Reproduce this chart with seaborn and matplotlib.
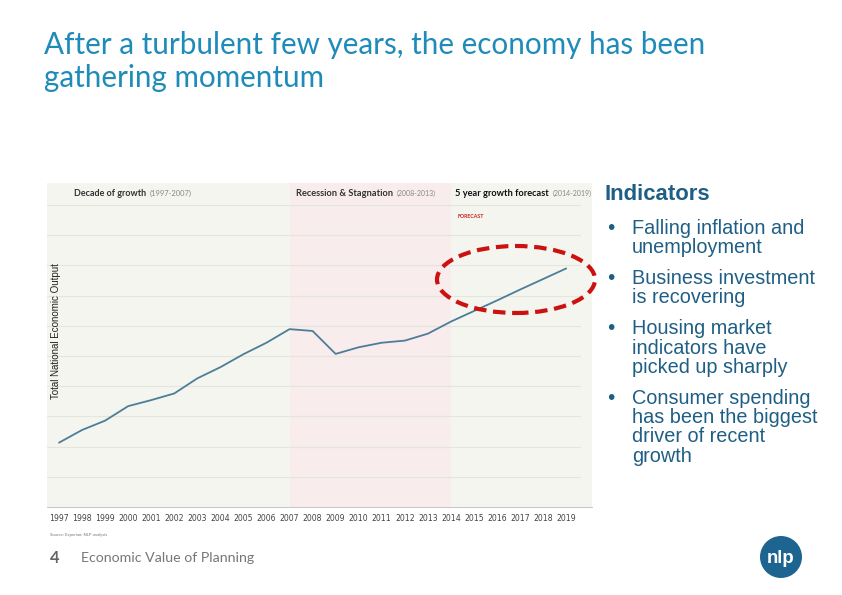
import matplotlib
matplotlib.use("Agg")
import matplotlib.pyplot as plt
import seaborn as sns
import pandas as pd
import numpy as np
from matplotlib.patches import Ellipse

years = list(range(1997, 2020))
output = [2.13, 2.55, 2.86, 3.34, 3.54, 3.76, 4.26, 4.63, 5.06, 5.44, 5.89,
          5.83, 5.07, 5.29, 5.44, 5.51, 5.74, 6.14, 6.49, 6.84, 7.20, 7.55, 7.90]
periods = ["Decade of growth", "Recession & Stagnation", "5 year growth forecast"]
period_years = ["(1997-2007)", "(2008-2013)", "(2014-2019)"]
period_bounds = [(1996.48, 2007), (2007, 2014), (2014, 2020.12)]
bullets = [["Falling inflation and", "unemployment"],
           ["Business investment", "is recovering"],
           ["Housing market", "indicators have", "picked up sharply"],
           ["Consumer spending", "has been the biggest", "driver of recent", "growth"]]
title_lines = ["After a turbulent few years, the economy has been", "gathering momentum"]

sns.set_theme(style="white")
plt.rcParams['font.family'] = ['Lato', 'DejaVu Sans']

W, H = 842, 595
fig = plt.figure(figsize=(W / 100, H / 100), dpi=100)
fig.patch.set_facecolor("white")

def fx(x):
    return x / W

def fy(y):
    return 1 - y / H

renderer = fig.canvas.get_renderer()

def fit(t, target):
    w = t.get_window_extent(renderer=renderer).width
    if w > 0:
        t.set_fontsize(t.get_fontsize() * target / w)

# axes
ax_l, ax_r, ax_t, ax_b = 47, 592, 183, 507
ax = fig.add_axes([fx(ax_l), fy(ax_b), (ax_r - ax_l) / W, (ax_b - ax_t) / H])
ax.set_xlim(1996.48, 2020.12)
ax.set_ylim(0, 10.73)
band_colors = ["#f3f5ee", "#f8ecec", "#f3f5ee"]
for (a, b), c in zip(period_bounds, band_colors):
    ax.axvspan(a, b, color=c, lw=0, zorder=0)
for g in range(1, 11):
    ax.plot([1996.48, 2019.6], [g, g], color="#e4e6de", lw=0.8, zorder=1)

df = pd.DataFrame({"year": years, "output": output})
sns.lineplot(data=df, x="year", y="output", ax=ax, color="#4d7d98", lw=1.3, zorder=3)
ax.set_xlabel("")
ax.set_ylabel("")
ax.set_yticks([])
ax.set_xticks(years)
ax.set_xticklabels([str(y) for y in years], fontsize=5.6, color="#444444",
                   family=["DejaVu Sans"])
ax.set_xticks(np.arange(1996.5, 2020, 1), minor=True)
ax.tick_params(axis="x", which="major", length=0, pad=5)
ax.tick_params(axis="x", which="minor", length=3, color="#999999", width=0.6)
for s in ["top", "right", "left"]:
    ax.spines[s].set_visible(False)
ax.spines["bottom"].set_color("#bbbbbb")
ax.spines["bottom"].set_linewidth(0.6)

# header labels
head_x = [(74, 150), (296, 397), (455, 553)]
head_w = [(73, 42), (98, 39), (95, 39)]
head_col = ["#333333", "#333333", "#111111"]
for (x1, x2), (w1, w2), p, py, c in zip(head_x, head_w, periods, period_years, head_col):
    t1 = fig.text(fx(x1), fy(193), p, fontsize=7, fontweight="bold", color=c, va="center")
    t2 = fig.text(fx(x2), fy(193), py, fontsize=5, color="#888888", va="center")
    fit(t1, w1)
    fit(t2, w2)
tf = fig.text(fx(458), fy(216), "FORECAST", fontsize=3.2, fontweight="bold",
              color="#cc2222", va="center")
fit(tf, 26)

yl = fig.text(fx(56), fy(331), "Total National Economic Output", rotation=90,
              fontsize=6.5, color="#222222", va="center", ha="center",
              family=["Liberation Sans", "DejaVu Sans"])
fit_w = yl.get_window_extent(renderer=renderer).height
yl.set_fontsize(yl.get_fontsize() * 137 / fit_w)

src = fig.text(fx(50), fy(535), "Source: Experian; NLP analysis", fontsize=3.5,
               color="#777777", va="center")
fit(src, 58)

# title
for i, line in enumerate(title_lines):
    t = fig.text(fx(44), fy(45 + 33 * i), line, fontsize=19, color="#1f8bb8",
                 va="center", ha="left")
    if i == 0:
        fit(t, 661)
        tsize = t.get_fontsize()
    else:
        t.set_fontsize(tsize)

# indicators
ti = fig.text(fx(604), fy(195), "Indicators", fontsize=14, fontweight="bold",
              color="#1f5f85", va="center", family=["Liberation Sans", "DejaVu Sans"])
fit(ti, 106)
bullet_y0 = [228, 278, 329, 398]
bsize = None
for grp, y0 in zip(bullets, bullet_y0):
    fig.text(fx(607), fy(y0), "\u2022", fontsize=15, color="#1f5f85", va="center",
             family=["Liberation Sans", "DejaVu Sans"])
    for j, line in enumerate(grp):
        t = fig.text(fx(632), fy(y0 + 19.4 * j), line, fontsize=13, color="#1f5f85",
                     va="center", family=["Liberation Sans", "DejaVu Sans"])
        if bsize is None:
            fit(t, 172)
            bsize = t.get_fontsize()
        else:
            t.set_fontsize(bsize)

# red dashed ellipse
ell = Ellipse((fx(516), fy(279.5)), 158 / W, 67 / H, transform=fig.transFigure,
              fill=False, edgecolor="#cc1111", lw=3, linestyle=(0, (3, 1.6)), zorder=10)
fig.add_artist(ell)

# footer
f4 = fig.text(fx(50), fy(558), "4", fontsize=12, fontweight="bold", color="#666666",
              va="center")
ft = fig.text(fx(81), fy(558), "Economic Value of Planning", fontsize=10,
              color="#777777", va="center")
fit(ft, 172)

# logo
logo = Ellipse((fx(781), fy(557)), 42 / W, 42 / H, transform=fig.transFigure,
               facecolor="#1d6590", edgecolor="none")
fig.add_artist(logo)
tl = fig.text(fx(781), fy(563), "nlp", fontsize=15, fontweight="bold", color="white",
              ha="center", va="baseline", family=["Liberation Sans", "DejaVu Sans"])
fit(tl, 28)

fig.savefig("out.png", dpi=100)
